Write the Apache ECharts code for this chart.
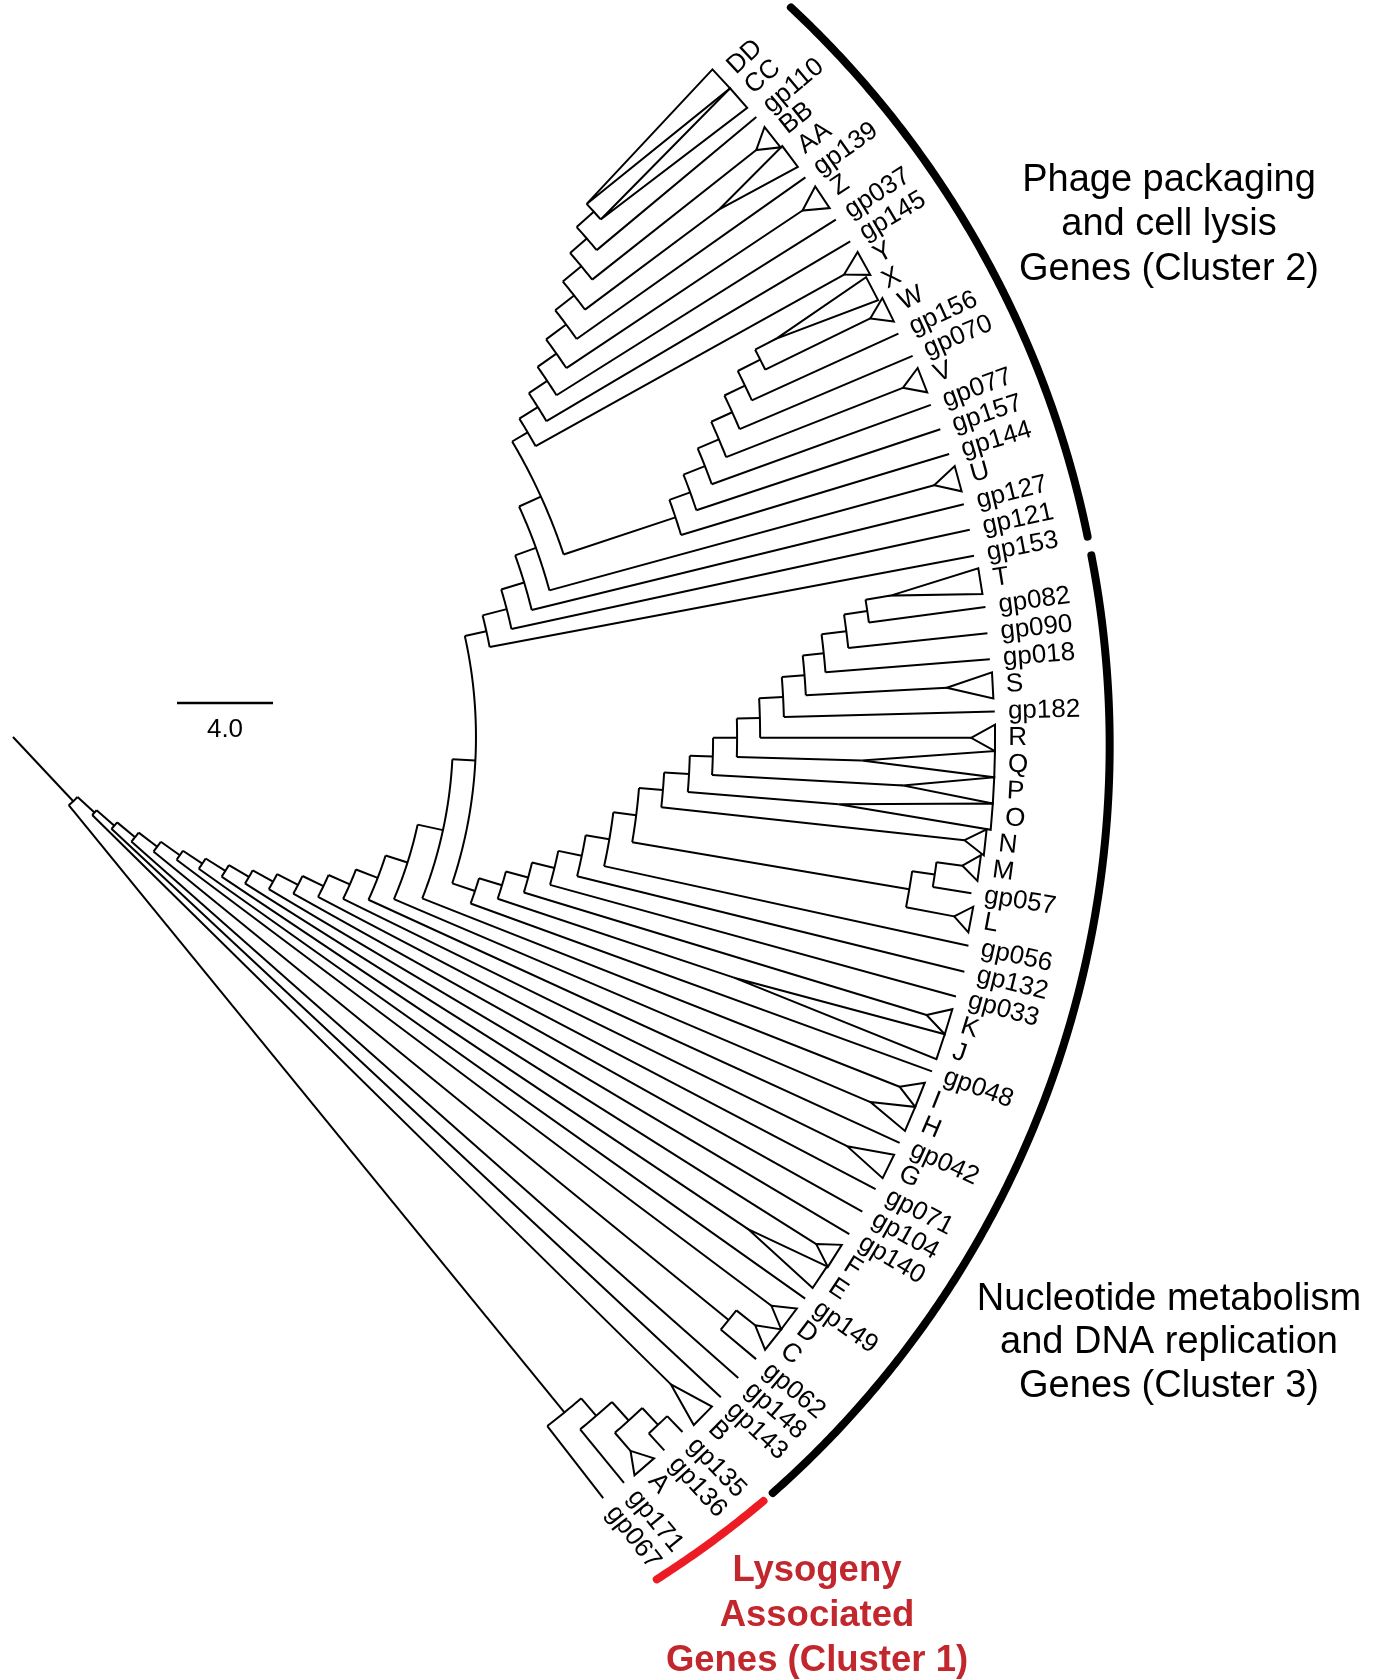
<!DOCTYPE html>
<html>
<head>
<meta charset="utf-8">
<script src="https://cdn.jsdelivr.net/npm/echarts@6/dist/echarts.min.js"></script>
<style>
  html, body { margin: 0; padding: 0; background: #fff; }
  #chart { width: 1380px; height: 1680px; }
</style>
</head>
<body>
<div id="chart"></div>
<script>
// Leaves of the gene tree, in order around the fan (top to bottom)
const tipLabels = ['DD','CC','gp110','BB','AA','gp139','Z','gp037','gp145','Y','X','W','gp156','gp070','V','gp077','gp157','gp144','U','gp127','gp121','gp153','T','gp082','gp090','gp018','S','gp182','R','Q','P','O','N','M','gp057','L','gp056','gp132','gp033','K','J','gp048','I','H','gp042','G','gp071','gp104','gp140','F','E','gp149','D','C','gp062','gp148','gp143','B','gp135','gp136','A','gp171','gp067'];

// Distance from the root to each leaf
const tipHeights = [40.29,40.29,40.33,40.33,40.42,40.42,40.54,40.50,40.54,40.58,40.38,40.58,40.54,40.71,40.71,40.67,40.71,40.75,40.83,40.79,40.79,40.75,40.83,40.88,40.83,40.83,40.88,40.92,40.92,40.92,40.92,40.92,40.75,40.63,40.46,40.63,40.75,40.83,40.75,40.75,40.75,40.75,40.63,40.63,40.63,40.63,40.58,40.54,40.54,40.50,40.46,40.46,40.42,40.42,40.38,40.33,40.33,40.33,40.21,40.25,40.21,40.17,40.13];

// Distance from the root to the base node of each collapsed clade (null = single gene)
const apexHeights = [32.63,32.63,null,39.46,36.71,null,39.54,null,null,39.63,35.88,39.75,null,null,39.83,null,null,null,39.79,null,null,null,37.04,null,null,null,38.96,null,39.92,35.38,37.13,34.5,39.88,39.92,null,39.92,null,null,null,39.79,31.67,null,39.71,38.83,null,38.71,null,null,null,39.58,36.88,null,39.5,39.46,null,null,null,38.46,null,null,39.33,null,null];

// Internal nodes: [id, distance from root, children]
const internalNodes = [
  ['root', 0, ['N0']],
  ['N0', 3.67, ['N1','nB0']],
  ['N1', 4.63, ['N2','B']],
  ['N2', 5.61, ['N3','gp143']],
  ['N3', 6.58, ['N4','gp148']],
  ['N4', 7.55, ['N5','nCG']],
  ['N5', 8.52, ['N6','D']],
  ['N6', 9.49, ['N7','gp149']],
  ['N7', 10.46, ['N8','E']],
  ['N8', 11.43, ['N9','F']],
  ['N9', 12.40, ['N10','gp140']],
  ['N10', 13.38, ['N11','gp104']],
  ['N11', 14.35, ['N12','gp071']],
  ['N12', 15.32, ['N13','G']],
  ['N13', 16.29, ['N14','gp042']],
  ['N14', 17.25, ['nP','H']],
  ['nP', 18.33, ['nBA','I']],
  ['nBA', 19.29, ['nY1','nL0']],
  ['nY1', 20.21, ['nY2','gp153']],
  ['nY2', 21.25, ['nY3','gp121']],
  ['nY3', 22.25, ['nX1','gp127']],
  ['nX1', 23.17, ['nX0','U']],
  ['nX0', 24.17, ['nC9','nV1']],
  ['nC9', 24.92, ['nC8','Y']],
  ['nC8', 25.83, ['nC7','gp145']],
  ['nC7', 26.75, ['nC6','gp037']],
  ['nC6', 27.71, ['nC5','Z']],
  ['nC5', 28.75, ['nC4','gp139']],
  ['nC4', 29.75, ['nC3','AA']],
  ['nC3', 30.75, ['nC2','BB']],
  ['nC2', 31.67, ['nC1','gp110']],
  ['nC1', 32.63, ['DD','CC']],
  ['nV1', 29.08, ['nV2','gp144']],
  ['nV2', 30.00, ['nV3','gp157']],
  ['nV3', 30.96, ['nV4','gp077']],
  ['nV4', 31.92, ['nV5','V']],
  ['nV5', 32.88, ['nV6','gp070']],
  ['nV6', 33.83, ['nV7','gp156']],
  ['nV7', 34.88, ['X','W']],
  ['nL0', 20.29, ['nL1','gp048']],
  ['nL1', 21.29, ['nL2','J']],
  ['nL2', 22.25, ['nL3','K']],
  ['nL3', 23.21, ['nL4','gp033']],
  ['nL4', 24.21, ['nL5','gp132']],
  ['nL5', 25.21, ['nL6','gp056']],
  ['nL6', 26.17, ['nL7','nLM']],
  ['nL7', 27.17, ['nL8','N']],
  ['nL8', 28.21, ['nL9','O']],
  ['nL9', 29.17, ['nL10','P']],
  ['nL10', 30.17, ['nL11','Q']],
  ['nL11', 31.13, ['nL12','R']],
  ['nL12', 32.13, ['nL13','gp182']],
  ['nL13', 33.08, ['nL14','S']],
  ['nL14', 33.96, ['nL15','gp018']],
  ['nL15', 35.00, ['nL16','gp090']],
  ['nL16', 35.98, ['T','gp082']],
  ['nLM', 37.88, ['nMG','L']],
  ['nMG', 38.83, ['M','gp057']],
  ['nCG', 38.46, ['C','gp062']],
  ['nB0', 36.33, ['gp067','nB1']],
  ['nB1', 37.29, ['gp171','nB2']],
  ['nB2', 38.33, ['A','nB3']],
  ['nB3', 39.29, ['gp136','gp135']]
];

// Cluster brackets: [start angle, end angle, start radius, end radius, colour]
const clusterArcs = [
  [-47.3, -11.9, 41.65, 41.5, '#000000'],
  [-10.8, 48.7, 41.5, 41.65, '#000000'],
  [49.4, 57.0, 41.65, 41.6, '#ed1c24']
];

// Cluster captions
const clusterTitles = [
  ['Phage packaging\nand cell lysis\nGenes (Cluster 2)', '#000000', 'normal'],
  ['Nucleotide metabolism\nand DNA replication\nGenes (Cluster 3)', '#000000', 'normal'],
  ['Lysogeny\nAssociated\nGenes (Cluster 1)', '#c1272d', 'bold']
];

const scaleBarLength = 4.0;

// ---- layout ----
const FIRST_ANGLE = -42.9;
const ANGLE_STEP = 1.534;
const LABEL_GAP = 0.55;
const FONT = '"Liberation Sans", Arial, Helvetica, sans-serif';

const angleOf = {}, heightOf = {}, childrenOf = {}, tipIndex = {};
tipLabels.forEach((t, i) => { angleOf[t] = FIRST_ANGLE + i * ANGLE_STEP; tipIndex[t] = i; });
internalNodes.forEach(([id, h, ch]) => { heightOf[id] = h; childrenOf[id] = ch; });
function nodeAngle(id) {
  if (id in angleOf) return angleOf[id];
  const ch = childrenOf[id];
  const a = ch.reduce((s, c) => s + nodeAngle(c), 0) / ch.length;
  angleOf[id] = a;
  return a;
}
nodeAngle('root');

// branch segments, node arcs and collapsed-clade triangles
const marks = [];
internalNodes.forEach(([id, h, ch]) => {
  const angs = ch.map(nodeAngle);
  if (ch.length > 1) marks.push({ kind: 'arc', r: h, a0: Math.min(...angs), a1: Math.max(...angs) });
  ch.forEach(c => {
    const a = angleOf[c];
    if (c in childrenOf) {
      marks.push({ kind: 'ray', r0: h, r1: heightOf[c], a });
    } else {
      const i = tipIndex[c];
      const apex = apexHeights[i];
      if (apex == null) {
        marks.push({ kind: 'ray', r0: h, r1: tipHeights[i], a });
      } else {
        if (apex > h) marks.push({ kind: 'ray', r0: h, r1: apex, a });
        marks.push({ kind: 'clade', r0: apex, r1: tipHeights[i], a, half: ANGLE_STEP / 2 });
      }
    }
  });
});

const lineStyle = { stroke: '#000', lineWidth: 2, fill: 'none', lineJoin: 'miter' };

function renderTree(params, api) {
  const m = marks[params.dataIndex];
  if (m.kind === 'ray') {
    const p = api.coord([m.r0, m.a]), q = api.coord([m.r1, m.a]);
    return { type: 'line', shape: { x1: p[0], y1: p[1], x2: q[0], y2: q[1] }, style: lineStyle };
  }
  if (m.kind === 'arc') {
    const n = Math.max(2, Math.ceil((m.a1 - m.a0) / 0.25));
    const pts = [];
    for (let k = 0; k <= n; k++) pts.push(api.coord([m.r, m.a0 + (m.a1 - m.a0) * k / n]));
    return { type: 'polyline', shape: { points: pts }, style: lineStyle };
  }
  const p = api.coord([m.r0, m.a]);
  const b1 = api.coord([m.r1, m.a - m.half]);
  const b2 = api.coord([m.r1, m.a + m.half]);
  return { type: 'polygon', shape: { points: [p, b1, b2] }, style: lineStyle };
}

function renderLabel(params, api) {
  const i = api.value(2);
  const a = angleOf[tipLabels[i]];
  const p = api.coord([tipHeights[i] + LABEL_GAP, a]);
  return {
    type: 'text', x: p[0], y: p[1], rotation: -a * Math.PI / 180,
    style: { text: tipLabels[i], font: '26px ' + FONT, fill: '#000', align: 'left', verticalAlign: 'middle' }
  };
}

function renderCluster(params, api) {
  const [a0, a1, r0, r1, colour] = clusterArcs[params.dataIndex];
  const n = Math.ceil(Math.abs(a1 - a0) / 0.25);
  const pts = [];
  for (let k = 0; k <= n; k++) {
    const t = k / n;
    pts.push(api.coord([r0 + (r1 - r0) * t, a0 + (a1 - a0) * t]));
  }
  return { type: 'polyline', shape: { points: pts }, style: { stroke: colour, lineWidth: 8, lineCap: 'round', fill: 'none' } };
}

function renderScaleBar(params, api) {
  const p0 = api.coord([0, 0]);
  const p1 = api.coord([scaleBarLength, 0]);
  const len = Math.hypot(p1[0] - p0[0], p1[1] - p0[1]);
  const x0 = 177, y0 = 703;
  return {
    type: 'group',
    children: [
      { type: 'line', shape: { x1: x0, y1: y0, x2: x0 + len, y2: y0 }, style: { stroke: '#000', lineWidth: 2.5 } },
      { type: 'text', x: x0 + len / 2, y: y0 + 27, style: { text: scaleBarLength.toFixed(1), font: '26px ' + FONT, fill: '#000', align: 'center', verticalAlign: 'middle' } }
    ]
  };
}

const titlePlacement = [[1169, 225, 38, 44.5], [1169, 1343, 38, 43.5], [817, 1616, 36.5, 45]];

const chart = echarts.init(document.getElementById('chart'), null, { renderer: 'canvas' });
chart.setOption({
  backgroundColor: '#ffffff',
  animation: false,
  polar: [
    { center: [13, 737], radius: [0, 1200] },
    { center: [113, 742], radius: [0, 1200] }
  ],
  angleAxis: [
    { polarIndex: 0, type: 'value', min: -180, max: 180, startAngle: 180, clockwise: true, show: false },
    { polarIndex: 1, type: 'value', min: -180, max: 180, startAngle: 180, clockwise: true, show: false }
  ],
  radiusAxis: [
    { polarIndex: 0, type: 'value', min: 0, max: 50, show: false },
    { polarIndex: 1, type: 'value', min: 0, max: 50, show: false }
  ],
  graphic: clusterTitles.map(([text, colour, weight], k) => ({
    type: 'text',
    x: titlePlacement[k][0], y: titlePlacement[k][1],
    style: {
      text, fill: colour, align: 'center', verticalAlign: 'middle',
      font: weight + ' ' + titlePlacement[k][2] + 'px ' + FONT,
      lineHeight: titlePlacement[k][3]
    }
  })),
  series: [
    { type: 'custom', coordinateSystem: 'polar', polarIndex: 0, silent: true,
      data: marks.map((m, i) => [m.r0 != null ? m.r0 : m.r, m.a != null ? m.a : m.a0, i]),
      renderItem: renderTree },
    { type: 'custom', coordinateSystem: 'polar', polarIndex: 0, silent: true,
      data: tipLabels.map((t, i) => [tipHeights[i], angleOf[t], i]),
      renderItem: renderLabel },
    { type: 'custom', coordinateSystem: 'polar', polarIndex: 1, silent: true,
      data: clusterArcs.map(c => [c[2], c[0]]),
      renderItem: renderCluster },
    { type: 'custom', coordinateSystem: 'polar', polarIndex: 0, silent: true,
      data: [[scaleBarLength, 0]],
      renderItem: renderScaleBar }
  ]
});
</script>
</body>
</html>
